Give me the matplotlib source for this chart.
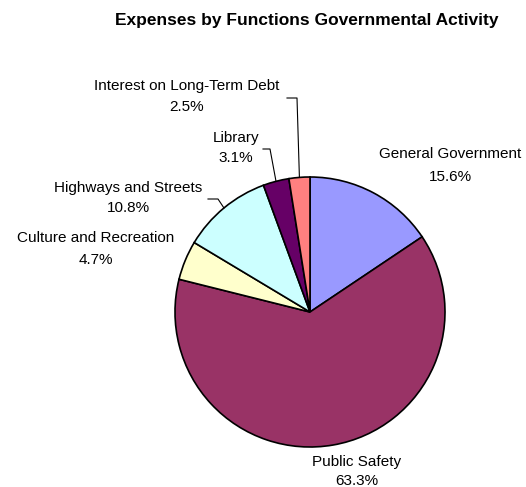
import numpy as np
import matplotlib.pyplot as plt

categories = ['General Government', 'Public Safety', 'Culture and Recreation',
              'Highways and Streets', 'Library', 'Interest on Long-Term Debt']
shares = [15.6, 63.3, 4.7, 10.8, 3.1, 2.5]
colors = ['#9999FF', '#993366', '#FFFFCC', '#CCFFFF', '#660066', '#FF8080']

# label placement in pixel coords (x centre, y of name line, y of pct line)
label_pos = {
    'General Government': (450, 154, 177),
    'Public Safety': (357, 462, 481),
    'Culture and Recreation': (96, 238, 260),
    'Highways and Streets': (128, 188, 208),
    'Library': (236, 138, 158),
    'Interest on Long-Term Debt': (187, 86, 107),
}
# leader elbows (pixel coords) for the small slices
leaders = {
    'Interest on Long-Term Debt': [(287, 98), (297, 98)],
    'Library': [(263, 149), (270, 149)],
    'Highways and Streets': [(208, 199), (218, 199)],
}

W, H = 526, 487
cx, cy, r = 310, 312, 135

plt.rcParams['font.family'] = ['Liberation Sans', 'DejaVu Sans']
fig = plt.figure(figsize=(W / 100, H / 100), dpi=100)
ax = fig.add_axes([0, 0, 1, 1])

wedges, _ = ax.pie(shares, colors=colors, startangle=90, counterclock=False,
                   center=(cx, H - cy), radius=r,
                   wedgeprops=dict(edgecolor='black', linewidth=1.2))
ax.set_xlim(0, W)
ax.set_ylim(0, H)
ax.set_aspect('equal')
ax.axis('off')

for name, val, w in zip(categories, shares, wedges):
    x, y1, y2 = label_pos[name]
    ax.text(x, H - y1, name, ha='center', va='center', fontsize=11)
    ax.text(x, H - y2, f'{val:.1f}%', ha='center', va='center', fontsize=11)
    if name in leaders:
        mid = np.deg2rad((w.theta1 + w.theta2) / 2)
        ex, ey = cx + r * np.cos(mid), (H - cy) + r * np.sin(mid)
        (x0, y0), (x1, y1_) = leaders[name]
        ax.plot([x0, x1, ex], [H - y0, H - y1_, ey], color='black', linewidth=0.8)

ax.text(307, H - 20, 'Expenses by Functions Governmental Activity',
        ha='center', va='center', fontsize=12.5, fontweight='bold')

fig.savefig('out.png', dpi=100)
